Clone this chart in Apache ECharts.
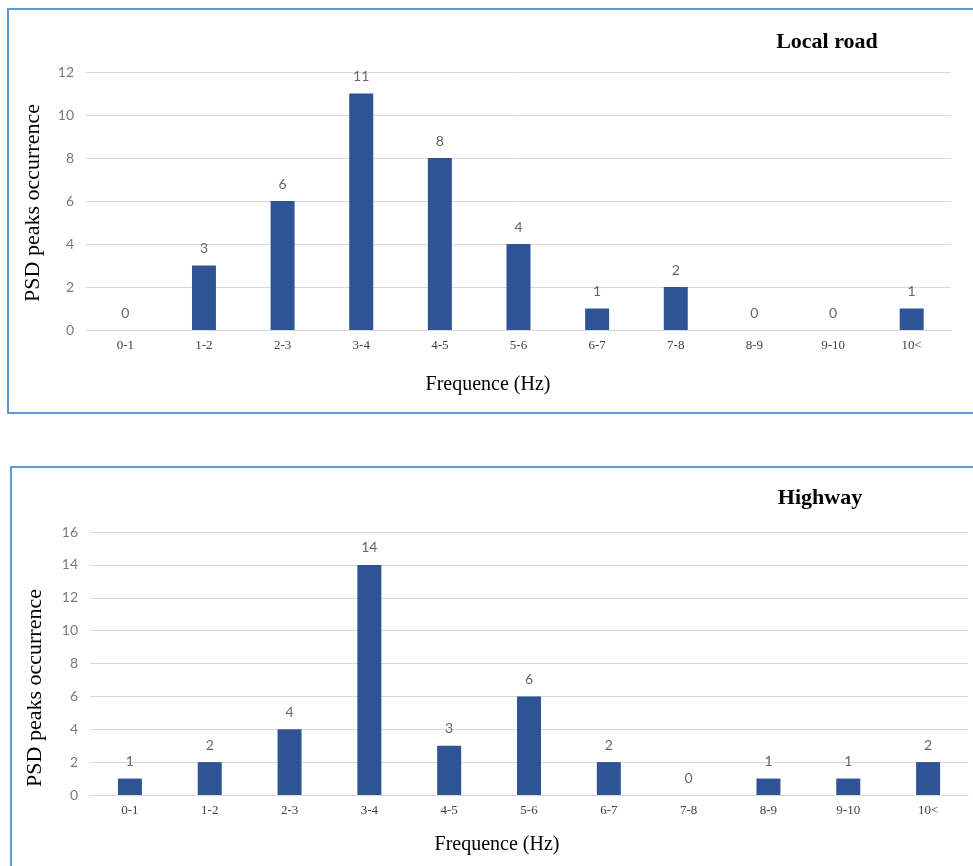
<!DOCTYPE html>
<html><head><meta charset="utf-8">
<script src="https://cdn.jsdelivr.net/npm/echarts@6/dist/echarts.min.js"></script>
<style>html,body{margin:0;padding:0;background:#fff}#c{width:973px;height:866px}</style>
</head><body><div id="c"></div>
<script>
const categories = ['0-1','1-2','2-3','3-4','4-5','5-6','6-7','7-8','8-9','9-10','10<'];
const localRoad = [0,3,6,11,8,4,1,2,0,0,1];
const highway = [1,2,4,14,3,6,2,0,1,1,2];
const titles = ['Local road','Highway'];
const yTitle = 'PSD peaks occurrence';
const xTitle = 'Frequence (Hz)';

const serif = '"Liberation Serif", "DejaVu Serif", serif';
const sans = 'Lato, "Open Sans", sans-serif';
const barColor = '#2F5496';
const gridColor = '#d9d9d9';

function xAxis(i){
  return {type:'category', gridIndex:i, data:categories,
    axisLine:{lineStyle:{color:gridColor}}, axisTick:{show:false},
    axisLabel:{fontFamily:serif, fontSize:13, color:'#404040', margin:9}};
}
function yAxis(i,max){
  return {type:'value', gridIndex:i, min:0, max:max, interval:2,
    axisLine:{show:false}, axisTick:{show:false},
    splitLine:{lineStyle:{color:gridColor}},
    axisLabel:{fontFamily:sans, fontSize:14, color:'#7a7a7a', margin:12}};
}
function series(i,data){
  return {type:'bar', xAxisIndex:i, yAxisIndex:i, data:data, barWidth:24,
    itemStyle:{color:barColor},
    label:{show:true, position:'top', distance:10, fontFamily:sans, fontSize:14, color:'#666'}};
}
function txt(x,y,text,font,rot){
  return {type:'text', x:x, y:y, rotation:rot||0,
    style:{text:text, font:font, fill:'#000', align:'center', verticalAlign:'middle'}};
}
const chart = echarts.init(document.getElementById('c'), null, {renderer:'canvas'});
chart.setOption({
  animation:false,
  grid:[{left:86, right:22, top:72, bottom:536},
        {left:90, right:5, top:532, bottom:71}],
  xAxis:[xAxis(0), xAxis(1)],
  yAxis:[yAxis(0,12), yAxis(1,16)],
  series:[series(0,localRoad), series(1,highway)],
  graphic:[
    {type:'rect', shape:{x:8, y:9, width:990, height:404}, style:{fill:'none', stroke:'#5B9BD5', lineWidth:2}},
    {type:'rect', shape:{x:11, y:467, width:990, height:420}, style:{fill:'none', stroke:'#5B9BD5', lineWidth:2}},
    txt(827, 42, titles[0], 'bold 22px '+serif),
    txt(820, 498, titles[1], 'bold 22px '+serif),
    txt(488, 385, xTitle, '20px '+serif),
    txt(497, 845, xTitle, '20px '+serif),
    txt(33, 203, yTitle, '22px '+serif, Math.PI/2),
    txt(35, 688, yTitle, '22px '+serif, Math.PI/2)
  ]
});
</script></body></html>
